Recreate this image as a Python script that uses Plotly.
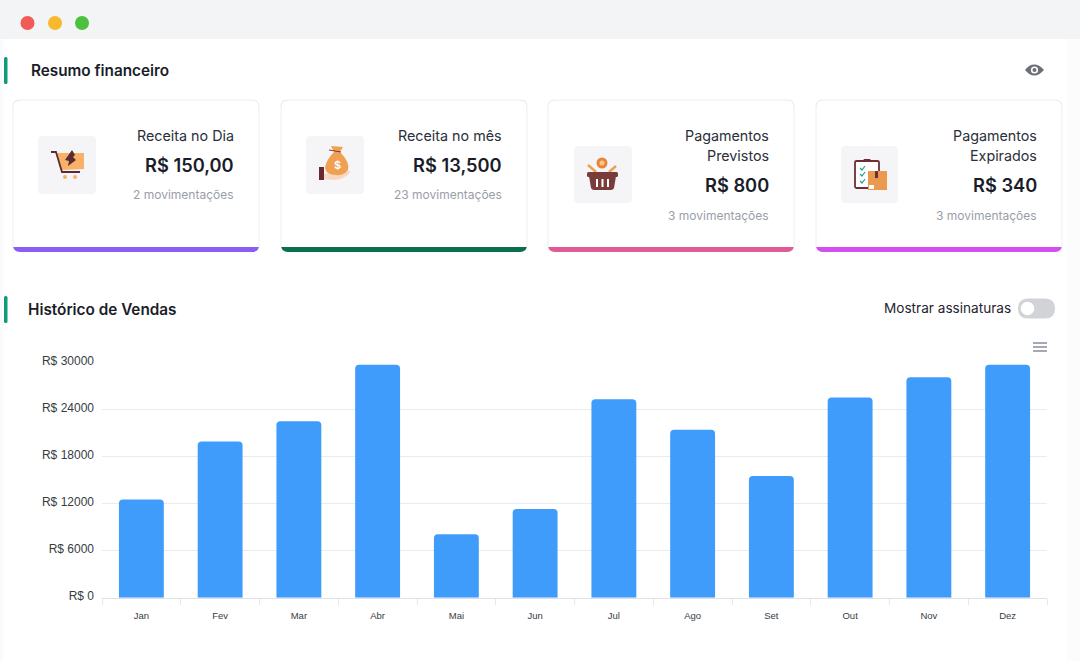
#!/usr/bin/env python3
"""Resumo financeiro + Historico de Vendas dashboard."""
import re

import plotly.graph_objects as go

W, H = 1080, 661

# chart data
months = ["Jan", "Fev", "Mar", "Abr", "Mai", "Jun", "Jul", "Ago", "Set", "Out", "Nov", "Dez"]
sales = [12500, 19900, 22500, 29700, 8100, 11300, 25300, 21400, 15500, 25500, 28100, 29700]
y_ticks = [0, 6000, 12000, 18000, 24000, 30000]
y_labels = ["R$ 0", "R$ 6000", "R$ 12000", "R$ 18000", "R$ 24000", "R$ 30000"]

# summary cards
card_titles = [["Receita no Dia"], ["Receita no mês"], ["Pagamentos", "Previstos"], ["Pagamentos", "Expirados"]]
card_values = ["R$ 150,00", "R$ 13,500", "R$ 800", "R$ 340"]
card_subs = ["2 movimentações", "23 movimentações", "3 movimentações", "3 movimentações"]
card_colors = ["#8b5cf6", "#0b6e4f", "#e05a96", "#d34ef0"]
card_left = [13, 281, 548, 816]

FONT = "Inter, Roboto, sans-serif"
shapes = []
annotations = []


def px(x):
    return x / W


def py(y):
    return 1 - y / H


def path(d):
    """Convert an svg path written in screen pixels to paper coordinates"""
    out = []
    is_x = True
    for tok in re.findall(r"[MLQCZ]|-?[\d.]+", d):
        if tok.isalpha():
            out.append(tok)
            is_x = True
        else:
            out.append(f"{px(float(tok)):.5f}" if is_x else f"{py(float(tok)):.5f}")
            is_x = not is_x
    return " ".join(out)


def add_path(d, fill=None, line=None, width=1):
    shapes.append(dict(
        type="path", xref="paper", yref="paper", path=path(d), layer="below",
        fillcolor=fill if fill else "rgba(0,0,0,0)",
        line=dict(color=line if line else "rgba(0,0,0,0)", width=width if line else 0),
    ))


def round_rect(x0, y0, x1, y1, r):
    return (f"M {x0+r} {y0} L {x1-r} {y0} Q {x1} {y0} {x1} {y0+r} L {x1} {y1-r} Q {x1} {y1} {x1-r} {y1} "
            f"L {x0+r} {y1} Q {x0} {y1} {x0} {y1-r} L {x0} {y0+r} Q {x0} {y0} {x0+r} {y0} Z")


def circle(cx, cy, r, fill):
    shapes.append(dict(type="circle", xref="paper", yref="paper", layer="below",
                       x0=px(cx - r), x1=px(cx + r), y0=py(cy + r), y1=py(cy - r),
                       fillcolor=fill, line=dict(width=0)))


def text(x, y, s, size, color, anchor="right", weight=400, family=FONT):
    annotations.append(dict(
        x=px(x), y=py(y), xref="paper", yref="paper", text=s, showarrow=False,
        xanchor=anchor, yanchor="middle", borderpad=0, borderwidth=0,
        font=dict(family=family, size=size, color=color, weight=weight),
    ))


def cart_icon():
    add_path(round_rect(38, 136, 96, 194, 4), fill="#f5f5f7")
    add_path("M 57 153 L 84 153 L 84 169 L 62 170 Z", fill="#f7b267")
    add_path("M 72 150 L 75 155 L 73 157 L 76 160 L 68 166 L 69 161 L 65 160 Z", fill="#5c2a32")
    add_path("M 51 152 L 56 152 L 62 172 L 80 172", line="#5c2a32", width=1.8)
    circle(65, 177, 2, "#f7b267")
    circle(75, 177, 2, "#f7b267")


def bag_icon():
    add_path(round_rect(306, 136, 364, 194, 4), fill="#f5f5f7")
    add_path("M 323 174 L 338 172 L 351 171 Q 345 180 333 180 L 323 179 Z", fill="#f9d6c2")
    add_path("M 334 152 L 340 152 Q 350 162 348 170 Q 344 176 336 175 Q 326 175 325 168 Q 326 160 334 152 Z", fill="#f0a052")
    add_path("M 331 146 L 343 147 L 340 152 L 334 152 Z", fill="#f0a052")
    add_path("M 329 150 L 341 152", line="#7a3b3b", width=1)
    add_path("M 319 167 L 324 167 L 324 180 L 319 180 Z", fill="#6b2730")
    text(337, 165, "$", 11, "#ffffff", anchor="center", weight=600)


def basket_icon():
    add_path(round_rect(574, 146, 632, 203, 4), fill="#f5f5f7")
    add_path("M 588 165 L 596 172", line="#f0a052", width=2.5)
    add_path("M 616 166 L 609 172", line="#f0a052", width=2.5)
    circle(602, 163, 5.5, "#e8853b")
    circle(602, 163, 2.5, "#f9c784")
    add_path(round_rect(587, 172, 618, 177, 1.5), fill="#7a3b3b")
    add_path("M 589 176 L 616 176 L 614 188 Q 613 190 611 190 L 594 190 Q 592 190 591 188 Z", fill="#7a3b3b")
    for sx in (597, 602.5, 608):
        add_path(f"M {sx-1} 179 L {sx+1} 179 L {sx+1} 187 L {sx-1} 187 Z", fill="#ffffff")


def clipboard_icon():
    add_path(round_rect(841, 146, 898, 203, 4), fill="#f5f5f7")
    add_path(round_rect(855, 161, 879, 188, 1.5), fill="#ffffff", line="#6b2f35", width=1.8)
    add_path("M 862 162 L 872 162 L 870 159 L 864 159 Z", fill="#6b2f35")
    for cy in (168, 174, 181):
        add_path(f"M 860 {cy} L 862 {cy+2} L 865 {cy-2}", line="#2a9d8f", width=1.2)
    add_path("M 868 171 L 887 171 L 887 190 L 868 190 Z", fill="#ea9a4e")
    add_path("M 875 171 L 878 171 L 878 178 L 875 178 Z", fill="#6b2f35")
    add_path("M 869 185 L 874 185 L 874 189 L 869 189 Z", fill="#ffffff")


# page background and window title bar
add_path(f"M 0 0 L {W} 0 L {W} {H} L 0 {H} Z", fill="#ffffff")
add_path(f"M 0 0 L {W} 0 L {W} 39 L 0 39 Z", fill="#f3f4f6")
add_path(f"M 0 39 L 3 39 L 3 {H} L 0 {H} Z", fill="#f9fafb")
add_path(f"M 1066 39 L {W} 39 L {W} {H} L 1066 {H} Z", fill="#fcfcfd")
for cx, col in zip((27.5, 55, 82), ("#f25a57", "#f8b92f", "#4cc13f")):
    circle(cx, 23, 7, col)

# section headers
add_path(round_rect(4, 57, 7.5, 84, 1.5), fill="#109a78")
add_path(round_rect(4, 296, 7.5, 323, 1.5), fill="#109a78")
text(31, 70, "Resumo financeiro", 15.3, "#1a1d29", anchor="left", weight=600)
text(28, 309, "Histórico de Vendas", 15.3, "#1a1d29", anchor="left", weight=600)

# eye icon
add_path("M 1025 70 Q 1034 59 1044 70 Q 1034 81 1025 70 Z", fill="#6b6f76")
circle(1034.5, 70, 3.6, "#ffffff")
circle(1034.5, 70, 2, "#6b6f76")

# toggle
text(1011, 308, "Mostrar assinaturas", 13.6, "#1f2430")
add_path(round_rect(1018, 298.5, 1055, 318.5, 10), fill="#d1d3d8")
circle(1027.5, 308.5, 6.8, "#ffffff")

# chart menu
for my in (343, 347, 351):
    add_path(f"M 1033 {my} L 1047 {my}", line="#6b7280", width=1.2)

# cards
for left, title, value, sub, col in zip(card_left, card_titles, card_values, card_subs, card_colors):
    right = left + 246
    add_path(round_rect(left, 100, right, 252, 7), fill=col)
    add_path(f"M {left+7} 100 L {right-7} 100 Q {right} 100 {right} 107 L {right} 247 L {left} 247 L {left} 107 Q {left} 100 {left+7} 100 Z",
             fill="#ffffff")
    add_path(f"M {left} 247 L {left} 107 Q {left} 100 {left+7} 100 L {right-7} 100 Q {right} 100 {right} 107 L {right} 247",
             line="#eceef2", width=1)
    tx = right - 25
    y = 135.5
    for line_txt in title:
        text(tx, y, line_txt, 14.3, "#2b2f3a")
        y += 20.5
    y = y - 20.5 + 29
    text(tx, y, value, 18.3, "#1a1d29", weight=600)
    text(tx, y + 30, sub, 12, "#9a9ea8")

cart_icon()
bag_icon()
basket_icon()
clipboard_icon()

fig = go.Figure(go.Bar(
    x=months, y=sales, width=0.57,
    marker=dict(color="#409cfb", cornerradius=4, line=dict(width=0)),
    hovertemplate="%{x}: R$ %{y}<extra></extra>",
))

fig.update_layout(
    width=W, height=H,
    autosize=False,
    margin=dict(l=0, r=0, t=0, b=0),
    paper_bgcolor="#ffffff",
    plot_bgcolor="rgba(0,0,0,0)",
    showlegend=False,
    shapes=shapes,
    annotations=annotations,
    xaxis=dict(
        domain=[px(102), px(1047)],
        type="category",
        automargin=False,
        tickson="boundaries",
        ticks="outside", ticklen=6, tickcolor="#e6e8eb", tickwidth=1,
        showline=True, linecolor="#dfe1e5", linewidth=1,
        showgrid=False,
        tickfont=dict(family="Liberation Sans, Arial, sans-serif", size=9.5, color="#373d3f"),
        ticklabelstandoff=9,
        fixedrange=True,
    ),
    yaxis=dict(
        domain=[py(597.7), py(362.3)],
        range=[0, 30000],
        automargin=False,
        tickmode="array", tickvals=y_ticks, ticktext=y_labels,
        showgrid=True, gridcolor="#e9ebee", gridwidth=1,
        zeroline=False,
        ticks="",
        ticklabelstandoff=7,
        ticklabelshift=-2,
        tickfont=dict(family="Liberation Sans, Arial, sans-serif", size=12, color="#373d3f"),
        fixedrange=True,
    ),
)

fig.write_html("out.html", config=dict(displayModeBar=False),
               post_script="document.body.style.margin='0';")
